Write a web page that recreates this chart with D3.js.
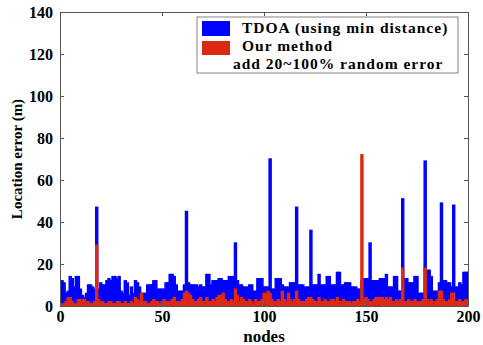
<!DOCTYPE html>
<html>
<head>
<meta charset="utf-8">
<script src="https://cdn.jsdelivr.net/npm/d3@7"></script>
<style>
  body { margin: 0; background: #fff; }
  text { font-family: "Liberation Serif", "Times New Roman", serif; font-weight: bold; fill: #000; }
</style>
</head>
<body>
<div id="chart"></div>
<script>
// node errors, nodes 1..200
const tdoa = [
  12, 11, 6, 7, 14, 13, 9, 14, 14, 8,
  5, 4, 6, 10, 10, 9, 8, 47, 8, 11,
  10, 10, 12, 13, 12, 14, 14, 13, 14, 7,
  6, 12, 11, 5, 9, 6, 12, 11, 9, 6,
  6, 6, 10, 10, 10, 12, 12, 8, 8, 8,
  8, 11, 11, 15, 15, 14, 10, 7, 7, 7,
  10, 45, 11, 10, 10, 10, 10, 9, 10, 9,
  9, 15, 15, 10, 12, 12, 12, 13, 13, 12,
  12, 12, 14, 14, 14, 30, 12, 10, 10, 9,
  9, 9, 10, 10, 7, 7, 13, 13, 13, 9,
  9, 9, 70, 8, 8, 13, 13, 13, 10, 9,
  9, 9, 11, 11, 11, 47, 10, 10, 10, 9,
  9, 9, 36, 10, 10, 10, 15, 10, 10, 10,
  14, 14, 10, 10, 10, 16, 16, 10, 10, 11,
  11, 11, 9, 9, 9, 8, 8, 12, 13, 13,
  13, 30, 12, 12, 12, 12, 13, 13, 13, 15,
  9, 9, 9, 14, 14, 7, 7, 51, 13, 13,
  11, 11, 11, 14, 14, 6, 6, 6, 69, 17,
  17, 14, 7, 7, 7, 11, 49, 12, 12, 11,
  11, 9, 48, 9, 9, 11, 10, 16, 16, 16
];
const ours = [
  1, 1, 2, 4, 4, 2, 1, 1, 3, 3,
  3, 3, 2, 2, 1, 1, 2, 29, 3, 2,
  2, 1, 1, 2, 2, 1, 1, 2, 2, 1,
  1, 2, 1, 1, 2, 1, 4, 3, 2, 6,
  2, 2, 1, 1, 2, 3, 2, 2, 1, 2,
  3, 2, 2, 2, 3, 4, 2, 2, 2, 3,
  6, 7, 6, 5, 3, 2, 2, 3, 4, 2,
  2, 4, 2, 2, 3, 2, 4, 5, 5, 6,
  3, 2, 2, 3, 2, 8, 5, 2, 4, 3,
  2, 2, 3, 2, 1, 3, 2, 2, 3, 6,
  6, 7, 6, 3, 2, 2, 3, 2, 7, 3,
  2, 6, 3, 2, 3, 7, 3, 2, 2, 2,
  3, 4, 4, 3, 2, 2, 4, 2, 2, 3,
  2, 2, 3, 3, 2, 4, 2, 2, 3, 2,
  2, 2, 1, 2, 2, 3, 2, 72, 3, 4,
  3, 2, 2, 3, 4, 4, 4, 4, 3, 4,
  3, 4, 2, 2, 3, 2, 3, 18, 2, 2,
  3, 2, 2, 3, 2, 2, 2, 3, 18, 3,
  2, 3, 2, 2, 3, 7, 7, 3, 2, 2,
  3, 6, 6, 2, 2, 3, 2, 2, 3, 2
];
const xTicks = [0, 50, 100, 150, 200];
const yTicks = [0, 20, 40, 60, 80, 100, 120, 140];
const legendLabels = ["TDOA (using min distance)", "Our method", "add 20~100% random error"];

const blue = "#0000ff", red = "#dc2a12";

const W = 483, H = 345;
const margin = { top: 12, right: 15, bottom: 39, left: 60 },
      width = W - margin.left - margin.right,
      height = H - margin.top - margin.bottom;

const svg = d3.select("#chart").append("svg")
  .attr("width", W).attr("height", H);

const g = svg.append("g")
  .attr("transform", `translate(${margin.left},${margin.top})`);

const x = d3.scaleLinear().domain([0, 200]).range([0, width]);
const y = d3.scaleLinear().domain([0, 140]).range([height, 0]);

svg.append("defs").append("clipPath").attr("id", "plot")
  .append("rect").attr("width", width).attr("height", height);

const bars = g.append("g").attr("clip-path", "url(#plot)");

function drawSeries(values, color) {
  bars.append("g").selectAll("rect")
    .data(values)
    .enter().append("rect")
    .attr("x", (d, i) => x(i + 0.5))
    .attr("width", x(1) - x(0))
    .attr("y", d => y(d))
    .attr("height", d => y(0) - y(d))
    .attr("fill", color)
    .attr("stroke", color)
    .attr("stroke-width", 1.4);
}
drawSeries(tdoa, blue);
drawSeries(ours, red);

// axes, matlab style: box with inward ticks
const tickLen = 4;
const axisStyle = sel => {
  sel.select(".domain").attr("stroke", "#555");
  sel.selectAll(".tick line").attr("stroke", "#555");
  sel.selectAll("text")
    .style("font-family", "'Liberation Serif', serif")
    .style("font-weight", "bold")
    .style("font-size", "16px")
    .attr("fill", "#000");
};

g.append("g")
  .attr("transform", `translate(0,${height})`)
  .call(d3.axisBottom(x).tickValues(xTicks).tickSize(-tickLen).tickPadding(5).tickSizeOuter(0))
  .call(axisStyle);
g.append("g")
  .call(d3.axisLeft(y).tickValues(yTicks).tickSize(-tickLen).tickPadding(7).tickSizeOuter(0))
  .call(axisStyle);
g.append("g")
  .call(d3.axisTop(x).tickValues(xTicks).tickSize(-tickLen).tickFormat("").tickSizeOuter(0))
  .call(axisStyle);
g.append("g")
  .attr("transform", `translate(${width},0)`)
  .call(d3.axisRight(y).tickValues(yTicks).tickSize(-tickLen).tickFormat("").tickSizeOuter(0))
  .call(axisStyle);

// axis labels
svg.append("text")
  .attr("x", margin.left + width / 2)
  .attr("y", H - 3)
  .attr("text-anchor", "middle")
  .style("font-size", "17px")
  .text("nodes");

svg.append("text")
  .attr("transform", `translate(22,${margin.top + height / 2}) rotate(-90)`)
  .attr("text-anchor", "middle")
  .style("font-size", "15px")
  .text("Location error (m)");

// legend
const lg = svg.append("g").attr("transform", "translate(197,17)");
lg.append("rect")
  .attr("width", 261).attr("height", 56)
  .attr("fill", "#fff").attr("stroke", "#666").attr("stroke-width", 0.8);
lg.append("rect").attr("x", 5).attr("y", 4).attr("width", 28).attr("height", 15).attr("fill", blue);
lg.append("rect").attr("x", 5).attr("y", 24).attr("width", 28).attr("height", 14).attr("fill", red);
lg.selectAll("text.lab")
  .data(legendLabels)
  .enter().append("text")
  .attr("class", "lab")
  .attr("x", (d, i) => i === 2 ? 36 : 45)
  .attr("y", (d, i) => 16 + i * 18)
  .style("font-size", "15.5px")
  .style("letter-spacing", "1px")
  .text(d => d);
</script>
</body>
</html>
